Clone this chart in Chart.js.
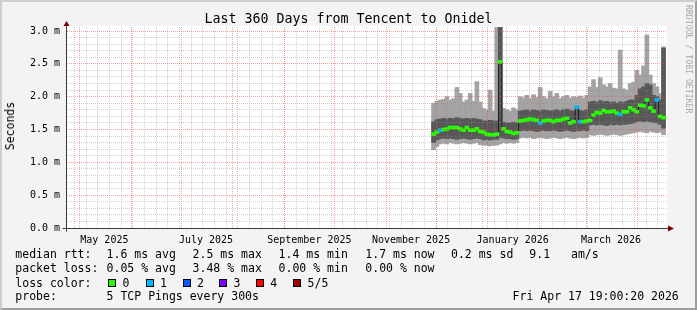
<!DOCTYPE html>
<html>
<head>
<meta charset="utf-8">
<title>Last 360 Days from Tencent to Onidel</title>
<script src="https://cdn.jsdelivr.net/npm/chart.js@4.4.1/dist/chart.umd.min.js"></script>
<style>
  html, body { margin: 0; padding: 0; background: #f3f3f3; }
  #wrap { position: relative; width: 697px; height: 310px; overflow: hidden;
          font-family: "DejaVu Sans Mono", monospace; color: #000; }
  #chart { position: absolute; left: 0; top: 0; }
  #frame { position: absolute; left: 0; top: 0; width: 697px; height: 310px; box-sizing: border-box;
           border-style: solid; border-width: 2px; border-color: #cfcfcf #9e9e9e #9e9e9e #cfcfcf; pointer-events: none; }
  .t { position: absolute; white-space: pre; font-size: 11.5px; line-height: 14px; }
  .box { position: absolute; width: 8px; height: 8px; box-sizing: border-box; border: 1px solid #000; }
  #title { position: absolute; left: 0; width: 697px; top: 11px; text-align: center; font-size: 13.3px; line-height: 16px; white-space: pre; }
  #ylab { position: absolute; left: 10px; top: 126px; font-size: 11.5px; line-height: 14px; white-space: pre;
          transform: translate(-50%, -50%) rotate(-90deg); }
  #mark { position: absolute; left: 684px; top: 5px; font-size: 8.2px; line-height: 9px; color: #a8a8a8;
          writing-mode: vertical-rl; white-space: pre; }
</style>
</head>
<body>
<div id="wrap">
  <canvas id="chart" width="697" height="310"></canvas>
  <div id="title">Last 360 Days from Tencent to Onidel</div>
  <div id="ylab">Seconds</div>
  <div id="mark">RRDTOOL / TOBI OETIKER</div>

  <div class="t" style="left:15.3px;top:247.3px">median rtt:</div>
  <div class="t" style="left:106.6px;top:247.3px">1.6 ms avg</div>
  <div class="t" style="left:192.6px;top:247.3px">2.5 ms max</div>
  <div class="t" style="left:278.6px;top:247.3px">1.4 ms min</div>
  <div class="t" style="left:365.3px;top:247.3px">1.7 ms now</div>
  <div class="t" style="left:451px;top:247.3px">0.2 ms sd</div>
  <div class="t" style="left:529.3px;top:247.3px">9.1</div>
  <div class="t" style="left:571px;top:247.3px">am/s</div>

  <div class="t" style="left:15.3px;top:261px">packet loss:</div>
  <div class="t" style="left:106.6px;top:261px">0.05 % avg</div>
  <div class="t" style="left:192.6px;top:261px">3.48 % max</div>
  <div class="t" style="left:278.6px;top:261px">0.00 % min</div>
  <div class="t" style="left:365.3px;top:261px">0.00 % now</div>

  <div class="t" style="left:15.3px;top:275.5px">loss color:</div>
  <div id="lossLegend"></div>

  <div class="t" style="left:15.3px;top:289.3px">probe:</div>
  <div class="t" style="left:106.6px;top:289.3px">5 TCP Pings every 300s</div>
  <div class="t" style="left:512.6px;top:289.3px">Fri Apr 17 19:00:20 2026</div>

  <div id="frame"></div>
</div>

<script>
// ---- data -------------------------------------------------------------
// graph window: 360 days ending Fri Apr 17 2026
const START = Date.UTC(2025, 3, 23, 14, 0);
const SPAN_DAYS = 360;
const Y_MAX = 3.061;

const monthLabels = ['May 2025', 'July 2025', 'September 2025', 'November 2025', 'January 2026', 'March 2026'];
const labelMonths = ['2025-05-01', '2025-07-01', '2025-09-01', '2025-11-01', '2026-01-01', '2026-03-01'];

const lossNames = ['0', '1', '2', '3', '4', '5/5'];
const lossColors = ['#26ff00', '#00b8ff', '#0059ff', '#7e00ff', '#ff0000', '#a10000'];

// one consolidated sample every two days (noon)
const sampleDates = [
  '2025-11-29',
  '2025-12-01', '2025-12-03', '2025-12-05', '2025-12-07', '2025-12-09', '2025-12-11', '2025-12-13', '2025-12-15',
  '2025-12-17', '2025-12-19', '2025-12-21', '2025-12-23', '2025-12-25', '2025-12-27', '2025-12-29', '2025-12-31',
  '2026-01-02', '2026-01-04', '2026-01-06', '2026-01-08', '2026-01-10', '2026-01-12', '2026-01-14', '2026-01-16',
  '2026-01-18', '2026-01-20', '2026-01-22', '2026-01-24', '2026-01-26', '2026-01-28', '2026-01-30',
  '2026-02-01', '2026-02-03', '2026-02-05', '2026-02-07', '2026-02-09', '2026-02-11', '2026-02-13', '2026-02-15',
  '2026-02-17', '2026-02-19', '2026-02-21', '2026-02-23', '2026-02-25', '2026-02-27',
  '2026-03-01', '2026-03-03', '2026-03-05', '2026-03-07', '2026-03-09', '2026-03-11', '2026-03-13', '2026-03-15',
  '2026-03-17', '2026-03-19', '2026-03-21', '2026-03-23', '2026-03-25', '2026-03-27', '2026-03-29', '2026-03-31',
  '2026-04-02', '2026-04-04', '2026-04-06', '2026-04-08', '2026-04-10', '2026-04-12', '2026-04-14', '2026-04-16'
];

// median rtt in ms
const median = [
  1.43, 1.46, 1.49, 1.50, 1.51, 1.53, 1.53, 1.53, 1.51, 1.49, 1.53, 1.49, 1.49, 1.51, 1.47, 1.46, 1.43,
  1.42, 1.42, 1.43, 2.53, 1.51, 1.47, 1.46, 1.44, 1.45, 1.63, 1.64, 1.65, 1.66, 1.65, 1.64,
  1.60, 1.63, 1.64, 1.64, 1.62, 1.64, 1.64, 1.66, 1.67, 1.60, 1.62, 1.84, 1.62, 1.62,
  1.63, 1.64, 1.72, 1.76, 1.75, 1.79, 1.77, 1.77, 1.78, 1.75, 1.73, 1.77, 1.77, 1.83, 1.80, 1.77,
  1.87, 1.86, 1.95, 1.83, 1.78, 1.95, 1.70, 1.68
];
// lost pings out of 5 for each sample
const lossCount = [
  0, 0, 1, 0, 0, 0, 0, 0, 0, 0, 0, 0, 0, 0, 0, 0, 0,
  0, 0, 0, 0, 0, 0, 0, 0, 0, 0, 0, 0, 0, 0, 0,
  1, 0, 0, 0, 0, 0, 0, 0, 0, 0, 0, 1, 1, 0,
  0, 0, 0, 0, 0, 0, 0, 0, 0, 0, 1, 0, 0, 0, 0, 0,
  0, 0, 0, 0, 0, 1, 0, 0
];
// outer smoke (fastest / slowest ping)
const smokeLow = [
  1.19, 1.24, 1.28, 1.29, 1.28, 1.30, 1.29, 1.28, 1.29, 1.30, 1.29, 1.28, 1.29, 1.30, 1.27, 1.26, 1.26,
  1.25, 1.26, 1.26, 1.28, 1.30, 1.29, 1.30, 1.29, 1.30, 1.37, 1.38, 1.37, 1.38, 1.36, 1.37,
  1.38, 1.37, 1.36, 1.37, 1.38, 1.37, 1.36, 1.37, 1.38, 1.37, 1.36, 1.37, 1.38, 1.37,
  1.38, 1.42, 1.41, 1.42, 1.43, 1.42, 1.41, 1.42, 1.43, 1.42, 1.41, 1.42, 1.43, 1.44, 1.45, 1.46,
  1.47, 1.46, 1.45, 1.47, 1.46, 1.45, 1.46, 1.42
];
const smokeHigh = [
  1.90, 1.93, 1.95, 1.96, 2.00, 1.95, 1.97, 2.14, 2.05, 1.92, 1.95, 2.05, 1.93, 2.23, 1.92, 1.82, 1.80,
  2.10, 1.78, 3.20, 3.20, 1.82, 1.80, 1.78, 1.83, 1.80, 2.00, 1.98, 2.02, 1.97, 2.03, 1.99,
  2.14, 2.00, 1.97, 2.08, 2.00, 2.05, 1.97, 2.00, 2.02, 1.98, 2.00, 1.99, 2.01, 1.98,
  2.02, 2.15, 2.26, 2.14, 2.29, 2.18, 2.15, 2.20, 2.13, 2.12, 2.71, 2.12, 2.10, 2.20, 2.22, 2.40,
  2.33, 2.47, 2.94, 2.33, 2.20, 2.15, 2.05, 2.76
];
// inner smoke (2nd / 4th ping)
const coreLow = [
  1.30, 1.34, 1.36, 1.37, 1.36, 1.37, 1.36, 1.35, 1.36, 1.37, 1.36, 1.35, 1.36, 1.37, 1.36, 1.34, 1.35,
  1.34, 1.35, 1.35, 1.38, 1.37, 1.36, 1.36, 1.35, 1.36, 1.48, 1.49, 1.48, 1.49, 1.48, 1.47,
  1.48, 1.49, 1.48, 1.48, 1.49, 1.48, 1.47, 1.48, 1.49, 1.48, 1.47, 1.48, 1.48, 1.49,
  1.48, 1.57, 1.58, 1.57, 1.58, 1.57, 1.56, 1.58, 1.57, 1.58, 1.57, 1.58, 1.58, 1.59, 1.60, 1.62,
  1.63, 1.62, 1.63, 1.62, 1.61, 1.60, 1.58, 1.52
];
const coreHigh = [
  1.62, 1.65, 1.66, 1.67, 1.66, 1.67, 1.66, 1.68, 1.67, 1.66, 1.67, 1.66, 1.67, 1.66, 1.65, 1.63, 1.63,
  1.64, 1.63, 1.63, 3.20, 1.61, 1.60, 1.60, 1.61, 1.60, 1.78, 1.79, 1.80, 1.78, 1.80, 1.79,
  1.78, 1.80, 1.79, 1.78, 1.79, 1.80, 1.78, 1.80, 1.81, 1.79, 1.78, 1.84, 1.79, 1.78,
  1.80, 1.92, 1.93, 1.91, 1.94, 1.92, 1.93, 1.91, 1.92, 1.90, 1.92, 1.91, 1.93, 1.95, 1.95, 2.02,
  2.12, 2.15, 2.20, 2.18, 2.02, 2.00, 1.95, 2.74
];

// ---- helpers ----------------------------------------------------------
const DAY_MS = 86400000;
const toDay = s => (Date.parse(s) - START) / DAY_MS;
const sampleDays = sampleDates.map(d => toDay(d + 'T12:00:00Z'));
const MEDIAN_HALF = 0.022;   // half height of the median marker

const FONT = "'DejaVu Sans Mono', monospace";
const MINOR = 'rgba(140,140,140,0.38)';
const MAJOR = 'rgba(235,70,70,0.5)';
const AXIS = '#3a3a3a';
const ARROW = '#7f0000';

// grid positions
const monthDays = [];
for (let m = 4; m <= 15; m++) monthDays.push((Date.UTC(2025, m, 1) - START) / DAY_MS);
const weekDays = [];
for (let t = Date.UTC(2025, 3, 28); t < START + SPAN_DAYS * DAY_MS; t += 7 * DAY_MS) weekDays.push((t - START) / DAY_MS);
const labelDays = labelMonths.map(m => toDay(m + 'T00:00:00Z') + 15);
const yGrid = [];
for (let i = 0; i <= 30; i++) yGrid.push(i / 10);
const isMajorY = v => Math.abs(v * 2 - Math.round(v * 2)) < 1e-6;

// loss colour legend
const lossLegend = document.getElementById('lossLegend');
const boxX = [108.3, 145.7, 182.7, 219.3, 256, 293.3];
lossNames.forEach((name, i) => {
    const b = document.createElement('div');
    b.className = 'box';
    b.style.left = boxX[i] + 'px';
    b.style.top = '278.5px';
    b.style.background = lossColors[i];
    lossLegend.appendChild(b);
    const t = document.createElement('div');
    t.className = 't';
    t.style.left = (boxX[i] + 14.3) + 'px';
    t.style.top = '275.5px';
    t.textContent = name;
    lossLegend.appendChild(t);
});

// ---- chart ------------------------------------------------------------
const plotArt = {
    id: 'plotArt',
    beforeDraw(chart) {
        const { ctx, chartArea: a } = chart;
        ctx.save();
        ctx.fillStyle = '#ffffff';
        ctx.fillRect(a.left, a.top - 1, a.right - a.left, a.bottom - a.top + 1);
        ctx.restore();
    },
    afterDraw(chart) {
        const { ctx, chartArea: a } = chart;
        const x0 = Math.round(a.left) - 0.5;
        const y0 = Math.round(a.bottom) + 0.5;
        ctx.save();
        ctx.strokeStyle = AXIS;
        ctx.lineWidth = 1;
        ctx.beginPath();
        ctx.moveTo(x0 - 4, y0);
        ctx.lineTo(a.right + 2, y0);
        ctx.moveTo(x0, y0 + 3);
        ctx.lineTo(x0, a.top - 1);
        ctx.stroke();
        ctx.fillStyle = ARROW;
        ctx.beginPath();
        ctx.moveTo(a.right + 1, y0 - 3);
        ctx.lineTo(a.right + 7, y0);
        ctx.lineTo(a.right + 1, y0 + 3);
        ctx.closePath();
        ctx.fill();
        ctx.beginPath();
        ctx.moveTo(x0 - 3, a.top - 1);
        ctx.lineTo(x0, a.top - 6);
        ctx.lineTo(x0 + 3, a.top - 1);
        ctx.closePath();
        ctx.fill();
        ctx.restore();
    }
};

const pts = (lo, hi) => sampleDays.map((x, i) => ({ x: x, y: [lo[i], hi[i]] }));

new Chart(document.getElementById('chart'), {
    type: 'bar',
    data: {
        datasets: [
            {
                label: 'median',
                data: sampleDays.map((x, i) => ({ x: x, y: [median[i] - MEDIAN_HALF, median[i] + MEDIAN_HALF] })),
                backgroundColor: lossCount.map(n => lossColors[n]),
                order: 0
            },
            {
                type: 'line',
                label: 'median line',
                data: sampleDays.map((x, i) => ({ x: x, y: median[i] })),
                borderColor: '#202020',
                borderWidth: 1,
                pointRadius: 0,
                stepped: 'middle',
                order: 1
            },
            {
                label: 'core smoke',
                data: pts(coreLow, coreHigh),
                backgroundColor: '#585858',
                order: 2
            },
            {
                label: 'outer smoke',
                data: pts(smokeLow, smokeHigh),
                backgroundColor: '#a4a4a4',
                order: 3
            }
        ]
    },
    options: {
        responsive: false,
        animation: false,
        devicePixelRatio: 1,
        layout: { padding: { left: 0, right: 30, top: 27, bottom: 0 } },
        datasets: {
            bar: { grouped: false, barThickness: 4, borderWidth: 0, xAxisID: 'x', yAxisID: 'y' },
            line: { xAxisID: 'x', yAxisID: 'y' }
        },
        plugins: { legend: { display: false }, title: { display: false }, tooltip: { enabled: false } },
        scales: {
            x: {
                type: 'linear', position: 'bottom', min: 0, max: SPAN_DAYS, offset: false,
                grid: { display: false, offset: false },
                border: { display: false },
                afterBuildTicks: s => { s.ticks = labelDays.map(v => ({ value: v })); },
                afterFit: s => { s.height = 82; },
                ticks: {
                    autoSkip: false, maxRotation: 0, padding: -2, color: '#000',
                    font: { family: FONT, size: 10 },
                    callback: (v, i) => monthLabels[i]
                }
            },
            xWeek: {
                type: 'linear', position: 'bottom', min: 0, max: SPAN_DAYS, offset: false,
                grid: { color: MINOR, z: 1, drawTicks: false, offset: false },
                border: { display: false, dash: [1, 1] },
                ticks: { display: false },
                afterBuildTicks: s => { s.ticks = weekDays.map(v => ({ value: v })); },
                afterFit: s => { s.height = 0; }
            },
            xMonth: {
                type: 'linear', position: 'bottom', min: 0, max: SPAN_DAYS, offset: false,
                grid: { color: MAJOR, z: 1, drawTicks: false, offset: false },
                border: { display: false, dash: [1, 1] },
                ticks: { display: false },
                afterBuildTicks: s => { s.ticks = monthDays.map(v => ({ value: v })); },
                afterFit: s => { s.height = 0; }
            },
            y: {
                type: 'linear', min: 0, max: Y_MAX,
                grid: { color: c => (isMajorY(c.tick.value) ? MAJOR : MINOR), z: 1, drawTicks: false },
                border: { display: false, dash: [1, 1] },
                afterBuildTicks: s => { s.ticks = yGrid.map(v => ({ value: v })); },
                afterFit: s => { s.width = 67; },
                ticks: {
                    autoSkip: false, padding: 7, color: '#000',
                    font: { family: FONT, size: 10 },
                    callback: v => (isMajorY(v) ? v.toFixed(1) + ' m' : '')
                }
            }
        }
    },
    plugins: [plotArt]
});
</script>
</body>
</html>
